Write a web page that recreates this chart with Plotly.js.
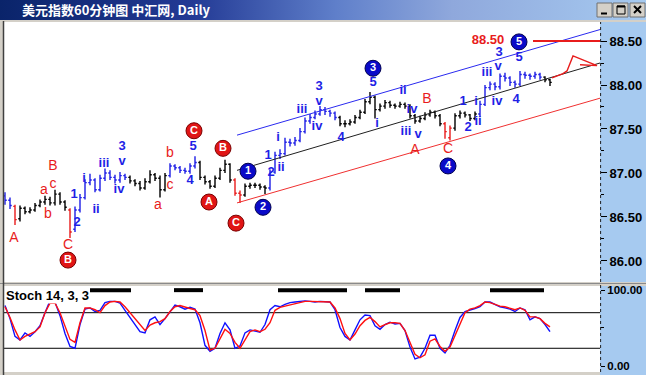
<!DOCTYPE html>
<html><head><meta charset="utf-8">
<script src="https://cdn.plot.ly/plotly-3.0.1.min.js"></script>
<style>
html,body{margin:0;padding:0;background:#d4d0c8;overflow:hidden;}
#bar{position:absolute;left:0;top:0;width:646px;height:20px;background:linear-gradient(90deg,#0a246a 0%,#233a95 30%,#5f7fca 52%,#8fa8dc 70%,#a6caf0 100%);}
#chart{position:absolute;left:0;top:0;width:646px;height:375px;}
</style></head><body>
<div id="bar"></div><div id="chart"></div>
<script>
// ---------- data ----------
const titleText = '美元指数60分钟图 中汇网, Daily';
const barOpen = [86.74,86.69,86.62,86.48,86.60,86.56,86.58,86.63,86.67,86.70,
86.66,86.76,86.67,86.58,86.36,86.58,86.72,86.89,86.92,86.81,
86.94,87.00,86.95,86.92,86.97,86.95,86.91,86.88,86.83,86.90,
86.98,86.94,86.81,86.97,87.08,87.06,87.03,87.02,87.08,87.12,
86.95,86.90,86.85,86.94,87.03,87.10,86.92,86.77,86.75,86.85,
86.86,86.86,86.84,86.83,87.01,87.20,87.22,87.35,87.34,87.37,
87.47,87.59,87.63,87.67,87.72,87.70,87.68,87.63,87.56,87.56,
87.58,87.63,87.69,87.81,87.86,87.72,87.76,87.80,87.77,87.76,
87.78,87.76,87.65,87.59,87.62,87.66,87.69,87.65,87.56,87.40,
87.51,87.65,87.68,87.66,87.62,87.67,87.78,87.97,88.01,87.98,
88.10,88.08,88.03,88.01,88.12,88.11,88.10,88.12,88.09,88.06];
const barHigh = [86.78,86.72,86.64,86.63,86.62,86.61,86.66,86.70,86.74,86.73,
86.81,86.78,86.69,86.60,86.62,86.76,86.93,86.99,86.94,86.98,
87.05,87.03,86.98,87.01,86.99,86.97,86.93,86.91,86.94,87.03,
87.00,86.97,87.00,87.11,87.10,87.08,87.06,87.11,87.19,87.14,
86.97,86.92,86.97,87.06,87.15,87.11,86.94,86.80,86.88,86.89,
86.89,86.88,86.86,87.04,87.24,87.27,87.40,87.39,87.41,87.51,
87.63,87.67,87.71,87.76,87.75,87.72,87.70,87.65,87.60,87.61,
87.66,87.72,87.84,87.92,87.88,87.79,87.83,87.82,87.79,87.81,
87.80,87.78,87.67,87.65,87.69,87.72,87.71,87.67,87.58,87.54,
87.68,87.71,87.70,87.67,87.70,87.82,88.00,88.04,88.03,88.13,
88.14,88.10,88.05,88.16,88.15,88.13,88.15,88.14,88.10,88.07];
const barLow = [86.64,86.59,86.41,86.45,86.53,86.54,86.56,86.61,86.64,86.63,
86.63,86.64,86.57,86.26,86.33,86.55,86.70,86.86,86.78,86.79,
86.91,86.92,86.88,86.89,86.92,86.88,86.85,86.80,86.81,86.88,
86.91,86.72,86.79,86.95,87.03,87.00,86.99,86.99,87.05,86.92,
86.87,86.82,86.83,86.92,87.00,86.89,86.74,86.66,86.73,86.82,
86.83,86.81,86.76,86.80,86.99,87.16,87.20,87.30,87.31,87.35,
87.45,87.56,87.61,87.65,87.66,87.64,87.60,87.53,87.52,87.54,
87.56,87.61,87.67,87.78,87.62,87.70,87.73,87.74,87.73,87.74,
87.73,87.62,87.56,87.57,87.60,87.64,87.62,87.53,87.39,87.37,
87.48,87.62,87.63,87.59,87.60,87.64,87.76,87.94,87.94,87.95,
88.04,87.99,87.97,87.99,88.07,88.06,88.07,88.06,88.03,87.99];
const barClose = [86.69,86.63,86.47,86.60,86.56,86.58,86.63,86.67,86.70,86.66,
86.76,86.67,86.61,86.33,86.58,86.72,86.89,86.92,86.81,86.94,
87.00,86.95,86.92,86.97,86.95,86.91,86.88,86.83,86.90,86.98,
86.94,86.81,86.97,87.08,87.06,87.03,87.02,87.08,87.12,86.95,
86.90,86.85,86.94,87.03,87.10,86.92,86.77,86.75,86.85,86.86,
86.86,86.84,86.83,87.01,87.20,87.22,87.35,87.34,87.37,87.47,
87.59,87.63,87.67,87.72,87.70,87.68,87.63,87.56,87.56,87.58,
87.63,87.69,87.81,87.86,87.72,87.76,87.80,87.77,87.76,87.78,
87.76,87.65,87.59,87.62,87.66,87.69,87.65,87.56,87.47,87.51,
87.65,87.68,87.66,87.62,87.67,87.78,87.97,88.01,87.98,88.10,
88.08,88.03,88.01,88.12,88.11,88.10,88.12,88.09,88.06,88.03];
// wave colour code of each bar: b = blue, k = black, r = red
const waveColor = ('bb' + 'r' + 'kkkkkkkkkk' + 'r' + 'bbbbbbbbbbb' + 'kkkkkkkk' + 'bbbbbb' +
  'kkkkkkk' + 'rr' + 'kkkkk' + 'bbbbbbbbbbbbbb' + 'kkkkkkkkkkkkkkkkkkkkk' + 'rr' +
  'kkkkk' + 'bbbbbbbbbbbbb' + 'kk').split('');

const stochK = [92,70,40,34,46,40,48,58,80,100,
98,75,45,23,20,60,86,88,82,84,
97,99,99,96,84,72,62,48,46,68,
73,60,70,82,93,90,86,89,86,63,
25,15,20,45,63,51,20,24,46,51,
49,47,60,85,92,90,94,97,98,99,
100,99,98,99,99,98,85,55,40,34,
51,68,76,75,58,52,60,64,61,62,
50,22,2,5,20,42,42,20,12,25,
50,72,82,84,87,90,98,98,94,90,
88,86,82,88,85,68,73,70,60,48];
const stochD = [90,72,51,34,40,44,48,56,80,96,
96,80,58,35,30,63,88,88,85,80,
92,98,99,98,90,80,70,59,50,59,
63,65,70,82,90,92,89,87,85,75,
50,17,20,35,52,45,30,20,35,48,
51,48,52,63,84,89,91,93,96,98,
99,99,99,98,98,98,88,70,45,34,
44,58,67,72,65,56,60,63,63,62,
50,29,10,4,9,32,36,23,15,22,
42,63,80,86,88,92,98,97,94,91,
90,87,85,88,84,73,73,70,62,56];
const stochLevels = [80, 20];
const signalStart = [17, 33.8, 54.6, 72, 97];
const signalEnd = [25.2, 39.6, 68.4, 79, 107.8];
const signalLevel = 118;

const priceTicks = [86.0, 86.5, 87.0, 87.5, 88.0, 88.5];
const priceTickText = ['86.00', '86.50', '87.00', '87.50', '88.00', '88.50'];
const priceMinorTicks = [86.25, 86.75, 87.25, 87.75, 88.25];
const stochTickVals = [118, -10];
const stochTickText = ['100.00', '0.00'];

// channel lines (bar index, price)
const channelX = [46.4, 119];
const upperChannel = [87.43, 88.63];
const midChannel = [87.03, 88.25];
const lowerChannel = [86.66, 87.85];

// target
const targetText = '88.50';
const targetPrice = 88.50;
const targetLabelX = 96.6;
const targetLineX = [105.6, 119];

// projected path
const projX = [109.4, 110.6, 111.6, 112.4, 113.6, 118.4, 115.0];
const projP = [88.08, 88.11, 88.13, 88.16, 88.33, 88.22, 88.23];

// circled wave labels
const circleX = [-0.8, 12.6, 37.8, 40.8, 43.6, 46.2, 48.6, 51.6, 73.6, 88.6, 102.8];
const circleP = [86.955, 86.01, 87.48, 86.67, 87.28, 86.43, 87.02, 86.61, 88.19, 87.08, 88.49];
const circleText = ['', 'B', 'C', 'A', 'B', 'C', '1', '2', '3', '4', '5'];
const circleKind = ['r', 'r', 'r', 'r', 'r', 'r', 'b', 'b', 'b', 'b', 'b'];

// plain red labels
const redLabelX = [1.8, 9.6, 9.6, 7.8, 8.6, 12.6, 30.6, 33.0, 33.0, 82.0, 84.4, 88.6];
const redLabelP = [86.25, 87.07, 86.87, 86.80, 86.53, 86.18, 86.63, 86.86, 87.22, 87.25, 87.84, 87.27];
const redLabelText = ['A', 'B', 'c', 'a', 'b', 'C', 'a', 'c', 'b', 'A', 'B', 'C'];

// plain blue labels
const blueLabelX = [13.8, 14.4, 15.8, 18.2, 19.8, 23.4, 23.4, 22.8, 37.6, 37.0,
  52.6, 53.2, 54.6, 55.2, 59.4, 62.8, 62.8, 62.4, 67.2, 73.6,
  74.4, 79.6, 81.4, 80.2, 82.6, 91.6, 92.6, 94.2, 94.6, 96.4,
  98.4, 98.6, 98.8, 102.8, 102.2];
const blueLabelP = [86.75, 86.43, 86.93, 86.58, 87.11, 87.30, 87.13, 86.81, 87.30, 86.91,
  87.20, 87.00, 87.40, 87.06, 87.72, 87.98, 87.81, 87.52, 87.40, 88.02,
  87.56, 87.93, 87.72, 87.47, 87.44, 87.81, 87.51, 87.81, 87.58, 88.14,
  87.81, 88.21, 88.37, 88.31, 87.83];
const blueLabelText = ['1', '2', 'i', 'ii', 'iii', '3', 'v', 'iv', '5', '4',
  '1', '2', 'i', 'ii', 'iii', '3', 'v', 'iv', '4', '5',
  'i', 'ii', 'iv', 'iii', 'v', '1', '2', 'i', 'ii', 'iii',
  'iv', 'v', '3', '5', '4'];

// ---------- styles ----------
const BLUE = '#1f1fe6', RED = '#e81c1c', BLACK = '#000000';
const labelFont = 'Liberation Sans, Arial, sans-serif';
const idx = barClose.map((_, i) => i);

function ohlc(code, color) {
  const ii = idx.filter(i => waveColor[i] === code);
  return {
    type: 'ohlc', xaxis: 'x', yaxis: 'y', hoverinfo: 'skip', showlegend: false,
    x: ii, open: ii.map(i => barOpen[i]), high: ii.map(i => barHigh[i]),
    low: ii.map(i => barLow[i]), close: ii.map(i => barClose[i]),
    tickwidth: 0.35,
    increasing: {line: {color: color, width: 1.4}},
    decreasing: {line: {color: color, width: 1.4}}
  };
}

const traces = [
  {type: 'scatter', mode: 'lines', x: channelX, y: upperChannel, line: {color: '#2a2af0', width: 1}, hoverinfo: 'skip'},
  {type: 'scatter', mode: 'lines', x: channelX, y: midChannel, line: {color: '#202020', width: 1}, hoverinfo: 'skip'},
  {type: 'scatter', mode: 'lines', x: channelX, y: lowerChannel, line: {color: '#f03030', width: 1}, hoverinfo: 'skip'},
  ohlc('k', BLACK), ohlc('b', BLUE), ohlc('r', RED),
  {type: 'scatter', mode: 'lines', x: targetLineX, y: [targetPrice, targetPrice], line: {color: RED, width: 2}, hoverinfo: 'skip'},
  {type: 'scatter', mode: 'lines', x: projX, y: projP, line: {color: RED, width: 1.4}, hoverinfo: 'skip', cliponaxis: false},
  {type: 'scatter', mode: 'text', x: [targetLabelX], y: [targetPrice], text: [targetText],
   textfont: {family: labelFont, size: 13, color: RED, weight: 'bold'}, hoverinfo: 'skip', cliponaxis: false},
  {type: 'scatter', mode: 'text', x: redLabelX, y: redLabelP, text: redLabelText,
   textfont: {family: labelFont, size: 14, color: RED}, hoverinfo: 'skip', cliponaxis: false},
  {type: 'scatter', mode: 'text', x: blueLabelX, y: blueLabelP, text: blueLabelText,
   textfont: {family: labelFont, size: 13, color: BLUE, weight: 'bold'}, hoverinfo: 'skip', cliponaxis: false},
  {type: 'scatter', mode: 'markers+text', x: circleX, y: circleP, text: circleText, textposition: 'middle center',
   marker: {size: 16, color: circleKind.map(k => k === 'r' ? '#e01515' : '#0a0ac8'),
            line: {color: circleKind.map(k => k === 'r' ? '#7a0000' : '#000050'), width: 1}},
   textfont: {family: labelFont, size: 11, color: '#ffffff', weight: 'bold'}, hoverinfo: 'skip'},
  {type: 'scatter', mode: 'lines', x: idx, y: stochK, xaxis: 'x', yaxis: 'y2', line: {color: '#1010ff', width: 1.4}, hoverinfo: 'skip'},
  {type: 'scatter', mode: 'lines', x: idx, y: stochD, xaxis: 'x', yaxis: 'y2', line: {color: '#ff1010', width: 1.4}, hoverinfo: 'skip'}
];

const px = X => (X - 4) / 596;       // window px -> paper x
const py = Y => (372 - Y) / 350;     // window px -> paper y

const shapes = [
  {type: 'rect', xref: 'paper', yref: 'paper', x0: 1, x1: 1.08, y0: -0.01, y1: 1, fillcolor: '#a6caf0', line: {width: 0}, layer: 'below'},
  {type: 'rect', xref: 'paper', yref: 'paper', x0: -0.01, x1: 1.08, y0: py(286), y1: py(282), fillcolor: '#d4d0c8', line: {width: 0}, layer: 'above'},
  {type: 'line', xref: 'paper', yref: 'paper', x0: -0.01, x1: 1.08, y0: py(283.5), y1: py(283.5), line: {color: '#8a8a8a', width: 1}, layer: 'above'},
  {type: 'line', xref: 'paper', yref: 'paper', x0: 1.001, x1: 1.001, y0: 0, y1: 1, line: {color: '#222', width: 1, dash: 'dot'}, layer: 'above'},
  {type: 'line', xref: 'paper', yref: 'paper', x0: px(3.5), x1: px(3.5), y0: py(375), y1: py(21), line: {color: '#404040', width: 1.5}, layer: 'above'},
  // window buttons
  {type: 'rect', xref: 'paper', yref: 'paper', x0: px(597), x1: px(612), y0: py(17), y1: py(3), fillcolor: '#d4d0c8', line: {color: '#707070', width: 1}, layer: 'above'},
  {type: 'rect', xref: 'paper', yref: 'paper', x0: px(613), x1: px(628), y0: py(17), y1: py(3), fillcolor: '#d4d0c8', line: {color: '#707070', width: 1}, layer: 'above'},
  {type: 'rect', xref: 'paper', yref: 'paper', x0: px(630), x1: px(645), y0: py(17), y1: py(3), fillcolor: '#d4d0c8', line: {color: '#707070', width: 1}, layer: 'above'},
  {type: 'line', xref: 'paper', yref: 'paper', x0: px(601), x1: px(607), y0: py(13.5), y1: py(13.5), line: {color: '#000', width: 2}, layer: 'above'},
  {type: 'rect', xref: 'paper', yref: 'paper', x0: px(617), x1: px(625), y0: py(14), y1: py(6), line: {color: '#000', width: 1}, layer: 'above'},
  {type: 'line', xref: 'paper', yref: 'paper', x0: px(617), x1: px(625), y0: py(6.5), y1: py(6.5), line: {color: '#000', width: 2}, layer: 'above'},
  {type: 'line', xref: 'paper', yref: 'paper', x0: px(634), x1: px(641), y0: py(6), y1: py(13), line: {color: '#000', width: 2}, layer: 'above'},
  {type: 'line', xref: 'paper', yref: 'paper', x0: px(634), x1: px(641), y0: py(13), y1: py(6), line: {color: '#000', width: 2}, layer: 'above'}
];
stochLevels.forEach(v => shapes.push({type: 'line', xref: 'paper', yref: 'y2', x0: 0, x1: 1, y0: v, y1: v, line: {color: '#000', width: 1}, layer: 'below'}));
signalStart.forEach((s, k) => shapes.push({type: 'line', xref: 'x', yref: 'y2', x0: s, x1: signalEnd[k], y0: signalLevel, y1: signalLevel, line: {color: '#000', width: 4}}));

const tickFont = {family: labelFont, size: 13, color: '#000', weight: 'bold'};
const layout = {
  width: 646, height: 375,
  margin: {l: 4, r: 46, t: 22, b: 3, pad: 0},
  paper_bgcolor: 'rgba(0,0,0,0)', plot_bgcolor: '#ffffff',
  showlegend: false,
  title: {text: titleText, x: 22 / 646, xanchor: 'left', xref: 'container', y: 1 - 10 / 375, yanchor: 'middle', yref: 'container',
          font: {family: '"Noto Sans CJK SC", sans-serif', size: 13, color: '#ffffff', weight: 'bold'}},
  xaxis: {range: [-0.2, 119], showticklabels: false, ticks: '', showgrid: false, zeroline: false, showline: false,
          rangeslider: {visible: false}, fixedrange: true},
  yaxis: {domain: [py(282), 1], range: [85.761, 88.716], side: 'right', anchor: 'x',
          tickmode: 'array', tickvals: priceTicks, ticktext: priceTickText, ticks: 'outside', ticklen: 6, tickcolor: '#000',
          tickfont: tickFont, showgrid: false, zeroline: false, showline: false,
          minor: {tickmode: 'array', tickvals: priceMinorTicks, ticks: 'outside', ticklen: 3, tickcolor: '#000', showgrid: false}},
  yaxis2: {domain: [0, py(286)], range: [-20, 125], side: 'right', anchor: 'x',
           tickmode: 'array', tickvals: stochTickVals, ticktext: stochTickText, ticks: 'outside', ticklen: 4, tickcolor: '#000',
           tickfont: {family: labelFont, size: 11.5, color: '#000', weight: 'bold'}, showgrid: false, zeroline: false, showline: false,
           minor: {tickmode: 'array', tickvals: [55], ticks: 'outside', ticklen: 3, tickcolor: '#000', showgrid: false}},
  shapes: shapes,
  annotations: [
    {xref: 'paper', yref: 'paper', x: px(5), y: py(295), xanchor: 'left', yanchor: 'middle', showarrow: false,
     text: 'Stoch 14, 3, 3', bgcolor: '#ffffff', borderpad: 0,
     font: {family: labelFont, size: 13, color: '#000', weight: 'bold'}}
  ]
};

Plotly.newPlot('chart', traces, layout, {staticPlot: true, displayModeBar: false});
</script></body></html>
